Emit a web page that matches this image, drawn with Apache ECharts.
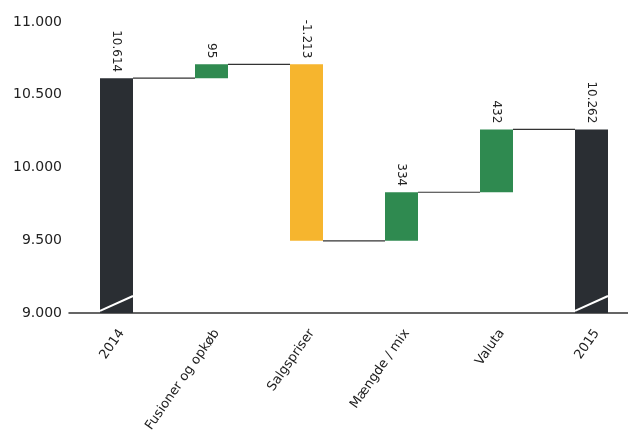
<!DOCTYPE html>
<html>
<head>
<meta charset="utf-8">
<script src="https://cdn.jsdelivr.net/npm/echarts@6/dist/echarts.min.js"></script>
<style>
  html, body { margin: 0; padding: 0; background: #fff; }
  #chart { width: 628px; height: 432px; }
</style>
</head>
<body>
<div id="chart"></div>
<script>
// Revenue bridge 2014 -> 2015
const categories = ['2014', 'Fusioner og opkøb', 'Salgspriser', 'Mængde / mix', 'Valuta', '2015'];
const startTotal = 10614;
const endTotal = 10262;
const changes = [95, -1213, 334, 432];
const yTicks = [9000, 9500, 10000, 10500, 11000];

const COLOR_TOTAL = '#2a2e33';
const COLOR_UP = '#2f8a50';
const COLOR_DOWN = '#f6b52e';

function fmt(v) {
  const s = Math.abs(v).toString().replace(/\B(?=(\d{3})+(?!\d))/g, '.');
  return (v < 0 ? '-' : '') + s;
}

// Build invisible bases and visible segments
const base = ['-'];
const visible = [{ value: startTotal, label: fmt(startTotal), itemStyle: { color: COLOR_TOTAL } }];
const levels = [startTotal];
let running = startTotal;
changes.forEach(c => {
  const next = running + c;
  base.push(Math.min(running, next));
  visible.push({ value: Math.abs(c), label: fmt(c), itemStyle: { color: c >= 0 ? COLOR_UP : COLOR_DOWN } });
  running = next;
  levels.push(running);
});
base.push('-');
visible.push({ value: endTotal, label: fmt(endTotal), itemStyle: { color: COLOR_TOTAL } });
levels.push(endTotal);

const BAR_W = 33;
const font = '"DejaVu Sans", sans-serif';

const chart = echarts.init(document.getElementById('chart'), null, { renderer: 'canvas' });
chart.setOption({
  animation: false,
  backgroundColor: '#fff',
  grid: { left: 69, width: 570, top: 22, bottom: 119, outerBoundsMode: 'none', containLabel: false },
  xAxis: {
    type: 'category',
    data: categories,
    axisLine: { lineStyle: { color: '#333', width: 1.5 } },
    axisTick: { show: false },
    axisLabel: {
      rotate: 55, color: '#222', fontSize: 13, fontFamily: font,
      margin: 14, verticalAlign: 'top'
    }
  },
  yAxis: {
    type: 'value',
    min: yTicks[0],
    max: yTicks[yTicks.length - 1],
    interval: 500,
    splitLine: { show: false },
    axisLine: { show: false },
    axisTick: { show: false },
    axisLabel: { color: '#222', fontSize: 14, fontFamily: font, margin: 7, formatter: v => fmt(v) }
  },
  series: [
    {
      type: 'bar',
      stack: 'w',
      barWidth: BAR_W,
      itemStyle: { color: 'transparent' },
      data: base,
      silent: true
    },
    {
      type: 'bar',
      stack: 'w',
      barWidth: BAR_W,
      data: visible.map(d => ({ value: d.value, itemStyle: d.itemStyle })),
      label: {
        show: true,
        position: 'top',
        rotate: -90,
        align: 'right',
        verticalAlign: 'middle',
        distance: 6,
        color: '#222',
        fontSize: 12,
        fontFamily: font,
        formatter: p => visible[p.dataIndex].label
      }
    },
    {
      // connector lines between consecutive bars
      type: 'custom',
      silent: true,
      data: levels.slice(0, -1).map((v, i) => [i, v]),
      renderItem: (params, api) => {
        const i = api.value(0);
        const v = api.value(1);
        const a = api.coord([i, v]);
        const b = api.coord([i + 1, v]);
        return {
          type: 'line',
          shape: { x1: a[0] + BAR_W / 2, y1: a[1], x2: b[0] - BAR_W / 2, y2: b[1] },
          style: { stroke: '#333', lineWidth: 1.2 }
        };
      },
      z: 5
    },
    {
      // axis-break slash on the total bars
      type: 'custom',
      silent: true,
      data: [[0, 9014, 9117], [5, 9014, 9117]],
      renderItem: (params, api) => {
        const i = api.value(0);
        const a = api.coord([i, api.value(1)]);
        const b = api.coord([i, api.value(2)]);
        return {
          type: 'line',
          shape: { x1: a[0] - BAR_W / 2, y1: a[1], x2: b[0] + BAR_W / 2, y2: b[1] },
          style: { stroke: '#fff', lineWidth: 2 }
        };
      },
      z: 6
    }
  ]
});
</script>
</body>
</html>
